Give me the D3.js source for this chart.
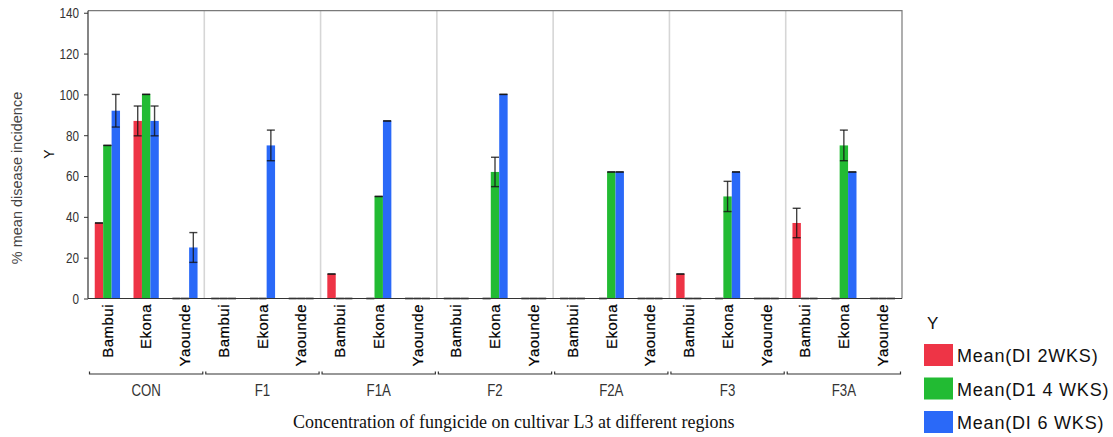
<!DOCTYPE html>
<html>
<head>
<meta charset="utf-8">
<script src="https://cdn.jsdelivr.net/npm/d3@7"></script>
<style>
    body { margin: 0; background: #fff; }
    svg { display: block; }
</style>
</head>
<body>
<svg id="chart" width="1113" height="437"></svg>
<script>
/*global d3*/

var groups = ['CON', 'F1', 'F1A', 'F2', 'F2A', 'F3', 'F3A'];
var regions = ['Bambui', 'Ekona', 'Yaounde'];
var seriesNames = ['Mean(DI 2WKS)', 'Mean(D1 4 WKS)', 'Mean(DI 6 WKS)'];
var seriesColors = ['#ee3446', '#22bb33', '#2a69f8'];
var yTicks = [0, 20, 40, 60, 80, 100, 120, 140];

// one value per group x region, in the order of groups then regions
var di2 = [37, 87, 0, 0, 0, 0, 12, 0, 0, 0, 0, 0, 0, 0, 0, 12, 0, 0, 37, 0, 0];
var di4 = [75, 100, 0, 0, 0, 0, 0, 50, 0, 0, 62, 0, 0, 62, 0, 0, 50, 0, 0, 75, 0];
var di6 = [92, 87, 25, 0, 75, 0, 0, 87, 0, 0, 100, 0, 0, 62, 0, 0, 62, 0, 0, 62, 0];

var err2 = [0, 7.3, 0, 0, 0, 0, 0, 0, 0, 0, 0, 0, 0, 0, 0, 0, 0, 0, 7.2, 0, 0];
var err4 = [0, 0, 0, 0, 0, 0, 0, 0, 0, 0, 7.2, 0, 0, 0, 0, 0, 7.4, 0, 0, 7.5, 0];
var err6 = [8, 7.3, 7.3, 0, 7.5, 0, 0, 0, 0, 0, 0, 0, 0, 0, 0, 0, 0, 0, 0, 0, 0];

(function (d3) {
    'use strict';

    var svg = d3.select('#chart'),
        left = 88,
        right = 902,
        top = 10.7,
        bottom = 298.5,
        squeeze = 0.78,
        values = [di2, di4, di6],
        errors = [err2, err4, err6],
        sans = '"Liberation Sans", Arial, sans-serif',
        bars = [],
        x0, x1, x2, y, plot, legend;

    y = d3.scaleLinear().domain([0, 141]).range([bottom, top]);

    x0 = d3.scaleBand().domain(groups).range([left, right]);
    x1 = d3.scaleBand().domain(regions).range([0, x0.bandwidth()]);
    x2 = d3.scaleBand().domain([0, 1, 2])
        .range([0, x1.bandwidth()]).paddingInner(0).paddingOuter(0.8);

    groups.forEach(function (g, gi) {
        regions.forEach(function (r, ri) {
            var k = gi * regions.length + ri;
            values.forEach(function (s, si) {
                bars.push({g: g, r: r, s: si, v: s[k], e: errors[si][k]});
            });
        });
    });

    plot = svg.append('g');

    // group separators
    plot.selectAll('.sep')
        .data(groups.slice(1))
      .enter().append('line')
        .attr('class', 'sep')
        .attr('x1', function (d) { return x0(d); })
        .attr('x2', function (d) { return x0(d); })
        .attr('y1', top)
        .attr('y2', bottom)
        .style('stroke', '#d6d6d6')
        .style('stroke-width', 1.6);

    function barX(d) {
        return x0(d.g) + x1(d.r) + x2(d.s);
    }

    plot.selectAll('.bar')
        .data(bars.filter(function (d) { return d.v > 0; }))
      .enter().append('rect')
        .attr('class', 'bar')
        .attr('x', barX)
        .attr('width', x2.bandwidth())
        .attr('y', function (d) { return y(d.v); })
        .attr('height', function (d) { return y(0) - y(d.v); })
        .style('fill', function (d) { return seriesColors[d.s]; });

    // error bars, drawn for every bar (zero ones show as caps on the baseline)
    var eb = plot.selectAll('.err')
        .data(bars)
      .enter().append('g')
        .attr('class', 'err')
        .attr('transform', function (d) {
            return 'translate(' + (barX(d) + x2.bandwidth() / 2) + ',0)';
        })
        .style('stroke', 'rgba(20,20,20,0.8)')
        .style('stroke-width', 1.4);

    eb.append('line')
        .attr('y1', function (d) { return y(d.v + d.e); })
        .attr('y2', function (d) { return y(Math.max(0, d.v - d.e)); });
    eb.append('line')
        .attr('x1', -4).attr('x2', 4)
        .attr('y1', function (d) { return y(d.v + d.e); })
        .attr('y2', function (d) { return y(d.v + d.e); });
    eb.append('line')
        .attr('x1', -4).attr('x2', 4)
        .attr('y1', function (d) { return y(Math.max(0, d.v - d.e)); })
        .attr('y2', function (d) { return y(Math.max(0, d.v - d.e)); });

    // frame
    svg.append('path')
        .attr('d', 'M' + left + ',' + top + 'H' + right + 'V' + bottom)
        .style('fill', 'none')
        .style('stroke', '#7a7a7a')
        .style('stroke-width', 1.2);

    // y axis, labels squeezed to look like the narrow face in the original
    var yAxis = svg.append('g')
        .attr('transform', 'translate(' + left + ',0)')
        .call(d3.axisLeft(y).tickValues(yTicks).tickSize(4).tickPadding(5));
    yAxis.select('.domain').remove();
    yAxis.selectAll('line').style('stroke', '#333');
    yAxis.selectAll('text')
        .attr('x', -9 / squeeze)
        .attr('transform', 'scale(' + squeeze + ',1)')
        .style('font-family', sans)
        .style('font-size', '15px')
        .style('fill', '#333');

    svg.append('line')
        .attr('x1', left).attr('x2', left)
        .attr('y1', top).attr('y2', bottom)
        .style('stroke', '#333').style('stroke-width', 1.2);
    svg.append('line')
        .attr('x1', left).attr('x2', right)
        .attr('y1', bottom).attr('y2', bottom)
        .style('stroke', '#333').style('stroke-width', 1.2);

    // region labels
    var cells = [];
    groups.forEach(function (g) {
        regions.forEach(function (r) { cells.push({g: g, r: r}); });
    });
    svg.selectAll('.reg')
        .data(cells)
      .enter().append('text')
        .attr('class', 'reg')
        .attr('transform', function (d) {
            var cx = x0(d.g) + x1(d.r) + x1.bandwidth() / 2;
            return 'translate(' + cx + ',' + (bottom + 5.5) + ') rotate(-90)';
        })
        .attr('dy', '0.35em')
        .attr('text-anchor', 'end')
        .style('font-family', sans)
        .style('font-size', '15px')
        .style('letter-spacing', '0.5px')
        .style('fill', '#000')
        .style('stroke', '#000')
        .style('stroke-width', 0.2)
        .text(function (d) { return d.r; });

    // group brackets and labels
    var br = svg.selectAll('.bracket')
        .data(groups)
      .enter().append('g')
        .attr('class', 'bracket');
    br.append('path')
        .attr('d', function (d) {
            var a = x0(d) + 1.5, b = x0(d) + x0.bandwidth() - 1.5;
            return 'M' + a + ',371.5V374H' + b + 'V371.5';
        })
        .style('fill', 'none')
        .style('stroke', '#333')
        .style('stroke-width', 1.2);
    br.append('text')
        .attr('transform', function (d) {
            return 'translate(' + (x0(d) + x0.bandwidth() / 2) + ',390) scale(' + squeeze + ',1)';
        })
        .attr('dy', '0.35em')
        .attr('text-anchor', 'middle')
        .style('font-family', sans)
        .style('font-size', '17px')
        .style('fill', '#333')
        .text(function (d) { return d; });

    // axis titles
    svg.append('text')
        .attr('transform', 'translate(17,178) rotate(-90)')
        .attr('dy', '0.35em')
        .attr('text-anchor', 'middle')
        .style('font-family', sans)
        .style('font-size', '14.5px')
        .style('fill', '#444')
        .text('% mean disease incidence');
    svg.append('text')
        .attr('transform', 'translate(49,154) rotate(-90)')
        .attr('dy', '0.35em')
        .attr('text-anchor', 'middle')
        .style('font-family', sans)
        .style('font-size', '14px')
        .style('fill', '#111')
        .text('Y');

    svg.append('text')
        .attr('x', 293)
        .attr('y', 428)
        .style('font-family', '"Liberation Serif", "Times New Roman", serif')
        .style('font-size', '18px')
        .style('fill', '#111')
        .text('Concentration of fungicide on cultivar L3 at different regions');

    // legend
    legend = svg.append('g').attr('transform', 'translate(924,0)');
    legend.append('text')
        .attr('x', 3)
        .attr('y', 323)
        .attr('dy', '0.35em')
        .style('font-family', sans)
        .style('font-size', '17px')
        .style('fill', '#111')
        .text('Y');
    var li = legend.selectAll('.li')
        .data(seriesNames)
      .enter().append('g')
        .attr('class', 'li')
        .attr('transform', function (d, i) { return 'translate(0,' + (344 + i * 33.5) + ')'; });
    li.append('rect')
        .attr('width', 29)
        .attr('height', 22)
        .style('fill', function (d, i) { return seriesColors[i]; });
    li.append('text')
        .attr('x', 33)
        .attr('y', 12)
        .attr('dy', '0.35em')
        .style('font-family', sans)
        .style('font-size', '18px')
        .style('letter-spacing', '0.8px')
        .style('fill', '#111')
        .text(function (d) { return d; });

}(window.d3));
</script>
</body>
</html>
